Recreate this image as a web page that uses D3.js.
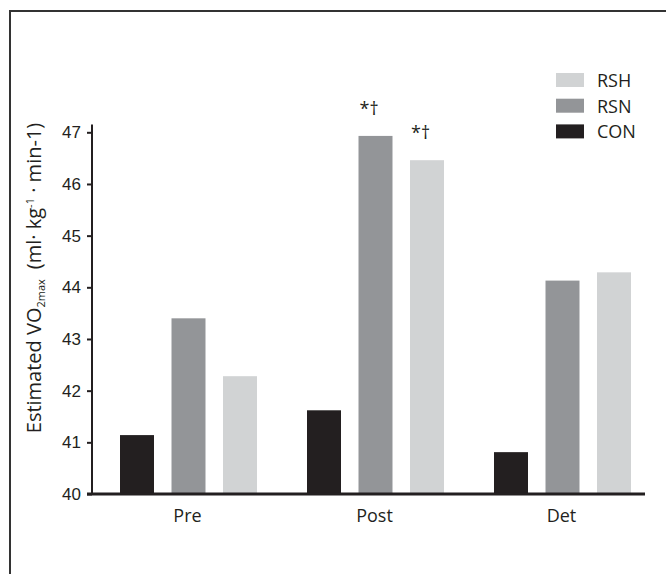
<!DOCTYPE html>
<html>
<head>
<meta charset="utf-8">
<script src="https://cdn.jsdelivr.net/npm/d3@7"></script>
<style>
  body { margin: 0; background: #fff; }
  svg { display: block; font-family: "Open Sans", "Noto Sans", sans-serif; }
</style>
</head>
<body>
<div id="chart"></div>
<script>
var groups = ["Pre", "Post", "Det"];
var series = ["CON", "RSN", "RSH"];
var conValues = [41.14, 41.62, 40.81];
var rsnValues = [43.40, 46.93, 44.13];
var rshValues = [42.28, 46.46, 44.29];
var yTicks = [40, 41, 42, 43, 44, 45, 46, 47];
var legendOrder = ["RSH", "RSN", "CON"];
var marks = [{group: "Post", series: "RSN", text: "*†"}, {group: "Post", series: "RSH", text: "*†"}];

var colors = {CON: "#231f20", RSN: "#939598", RSH: "#d1d3d4"};
var ink = "#231f20";

var width = 666, height = 574;

var svg = d3.select("#chart")
    .append("svg")
        .attr("width", width)
        .attr("height", height);

// frame (only top and left edges are visible in the crop)
svg.append("line").attr("x1", 10).attr("x2", width).attr("y1", 11).attr("y2", 11)
    .attr("stroke", "#333").attr("stroke-width", 2);
svg.append("line").attr("x1", 10).attr("x2", 10).attr("y1", 10).attr("y2", height)
    .attr("stroke", "#333").attr("stroke-width", 2);

var data = [];
groups.forEach(function(g, i) {
    data.push({group: g, series: "CON", value: conValues[i]});
    data.push({group: g, series: "RSN", value: rsnValues[i]});
    data.push({group: g, series: "RSH", value: rshValues[i]});
});

var axisX = 92, axisEnd = 645;

var x0 = d3.scaleBand().domain(groups).range([95, 656]).padding(0);
var x1 = d3.scaleBand().domain(series).range([25, 162]).paddingInner(0.34).paddingOuter(0);
var y = d3.scaleLinear().domain([40, 47]).range([494, 132.3]);

// bars
svg.selectAll("rect.bar")
    .data(data)
    .enter()
    .append("rect")
        .attr("class", "bar")
        .attr("x", function(d) { return x0(d.group) + x1(d.series); })
        .attr("y", function(d) { return y(d.value); })
        .attr("width", x1.bandwidth())
        .attr("height", function(d) { return y(40) - y(d.value); })
        .attr("fill", function(d) { return colors[d.series]; });

// y axis
var yAxis = svg.append("g")
    .attr("transform", "translate(" + axisX + ",0)")
    .call(d3.axisLeft(y).tickValues(yTicks).tickFormat(d3.format("d"))
        .tickSize(5).tickPadding(6).tickSizeOuter(0));
yAxis.select(".domain").attr("d", "M0," + y(47.15) + "V" + y(40)).attr("stroke", ink).attr("stroke-width", 2);
yAxis.selectAll(".tick line").attr("stroke", ink).attr("stroke-width", 2);
yAxis.selectAll(".tick text").attr("fill", ink).style("font-size", "17px");

// x axis line
svg.append("line")
    .attr("x1", axisX - 5).attr("x2", axisEnd)
    .attr("y1", y(40)).attr("y2", y(40))
    .attr("stroke", ink).attr("stroke-width", 3);

// group labels
svg.selectAll("text.glabel")
    .data(groups)
    .enter()
    .append("text")
        .attr("class", "glabel")
        .attr("x", function(d) { return x0(d) + x0.bandwidth() / 2 - 1; })
        .attr("y", 522)
        .attr("text-anchor", "middle")
        .attr("fill", ink)
        .style("font-size", "18px")
        .text(function(d) { return d; });

// significance marks
svg.selectAll("text.sig")
    .data(marks)
    .enter()
    .append("text")
        .attr("class", "sig")
        .attr("x", function(d) { return x0(d.group) + x1(d.series) + 1; })
        .attr("y", function(d) {
            var i = groups.indexOf(d.group);
            var v = d.series === "RSN" ? rsnValues[i] : rshValues[i];
            return y(v) - 21;
        })
        .attr("fill", ink)
        .style("font-size", "18px")
        .text(function(d) { return d.text; });

// legend
var legend = svg.selectAll("g.legend")
    .data(legendOrder)
    .enter()
    .append("g")
        .attr("class", "legend")
        .attr("transform", function(d, i) { return "translate(556," + (73 + i * 25.7) + ")"; });
legend.append("rect").attr("width", 28).attr("height", 14)
    .attr("fill", function(d) { return colors[d]; });
legend.append("text").attr("x", 41).attr("y", 14)
    .attr("fill", ink).style("font-size", "18px")
    .text(function(d) { return d; });

// y axis title
var title = svg.append("text")
    .attr("transform", "translate(41,278) rotate(-90)")
    .attr("text-anchor", "middle")
    .attr("fill", ink)
    .style("font-size", "20px");
title.append("tspan").text("Estimated VO");
title.append("tspan").attr("dy", 4).style("font-size", "11px").text("2max");
title.append("tspan").attr("dy", -4).attr("dx", 10).text("(ml· kg");
title.append("tspan").attr("dy", -7).style("font-size", "11px").text("-1");
title.append("tspan").attr("dy", 7).text(" · min-1)");
</script>
</body>
</html>
